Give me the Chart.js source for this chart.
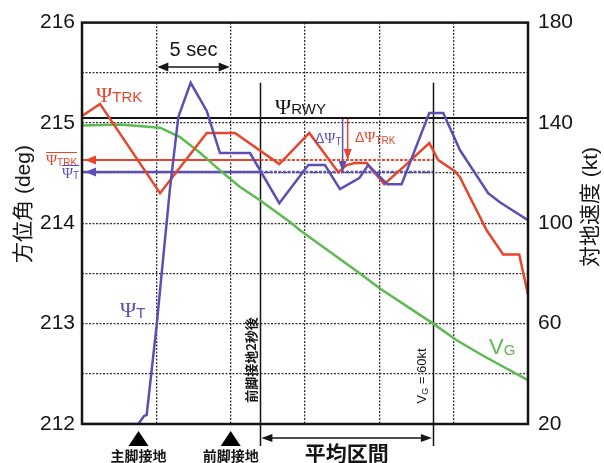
<!DOCTYPE html>
<html>
<head>
<meta charset="utf-8">
<script src="https://cdn.jsdelivr.net/npm/chart.js@4.4.1/dist/chart.umd.min.js"></script>
<style>
html, body { margin: 0; padding: 0; background: #fff; }
</style>
</head>
<body>
<canvas id="c" width="604" height="463"></canvas>
<script>
// time (s) / heading (deg)
var trkTime = [0, 1.21, 5.25, 8.39, 10.29, 13.27, 15.29, 17.24, 17.80, 18.36, 19.15, 20.33, 21.61, 23.36, 23.96, 25.08, 25.42, 27.22, 28.33, 29.41, 30];
var trkDeg  = [215.07, 215.19, 214.30, 214.90, 214.90, 214.59, 214.90, 214.51, 214.58, 214.60, 214.60, 214.39, 214.56, 214.80, 214.63, 214.52, 214.46, 213.93, 213.69, 213.69, 213.29];

var tTime = [0, 3.79, 4.17, 4.35, 5.02, 5.36, 5.92, 6.48, 7.31, 8.39, 9.28, 11.30, 13.27, 15.22, 16.34, 17.35, 18.65, 19.25, 20.53, 21.50, 23.36, 24.30, 25.42, 27.32, 28.11, 30];
var tDeg  = [212.0, 212.0, 212.08, 212.09, 212.98, 213.50, 214.35, 215.06, 215.40, 215.12, 214.70, 214.70, 214.20, 214.58, 214.58, 214.34, 214.45, 214.58, 214.39, 214.39, 215.10, 215.10, 214.73, 214.30, 214.21, 214.03];

var vgTime = [0, 2.56, 5.25, 6.59, 7.94, 9.28, 10.63, 11.97, 13.99, 14.66, 18.70, 20.04, 23.62, 25.20, 27.10, 30];
var vgKt   = [139.0, 139.4, 138.1, 134.4, 128.1, 121.1, 114.5, 109.2, 100.5, 97.2, 80.0, 74.0, 60.0, 53.4, 46.8, 37.5];

var rwyDeg = 215.05;
var meanTrk = 214.63, meanT = 214.51;
var avgStart = 12, avgEnd = 23.6;     // 平均区間
var mainGear = 3.8, noseGear = 10;    // 接地
var dTx = 17.53, dTrkx = 17.87;       // ΔΨ arrows

var RED = '#e8452c', BLUE = '#5b4fb4', GREEN = '#5cba50', INK = '#151515';
var JP = '"Noto Sans CJK JP"';

function pts(xs, ys) {
    var out = [];
    for (var i = 0; i < xs.length; i++) out.push({x: xs[i], y: ys[i]});
    return out;
}

function head(ctx, x, y, ang, len, half, color) {
    ctx.save();
    ctx.translate(x, y);
    ctx.rotate(ang);
    ctx.fillStyle = color;
    ctx.beginPath();
    ctx.moveTo(0, 0);
    ctx.lineTo(-len, -half);
    ctx.lineTo(-len, half);
    ctx.closePath();
    ctx.fill();
    ctx.restore();
}

// main glyph + subscript, returns total width
function sub(ctx, x, y, main, s, color, mf, sf, dy) {
    ctx.fillStyle = color;
    ctx.textAlign = 'left';
    ctx.textBaseline = 'alphabetic';
    ctx.font = mf;
    ctx.fillText(main, x, y);
    var w = ctx.measureText(main).width;
    ctx.font = sf;
    ctx.fillText(s, x + w, y + dy);
    return w + ctx.measureText(s).width;
}

var overlay = {
    id: 'overlay',
    beforeDatasetsDraw: function (chart) {
        var ctx = chart.ctx, xs = chart.scales.x, ys = chart.scales.y, a = chart.chartArea;
        ctx.save();
        ctx.strokeStyle = INK;
        ctx.lineWidth = 1.5;
        [avgStart, avgEnd].forEach(function (t) {
            var px = Math.round(xs.getPixelForValue(t)) + 0.5;
            ctx.beginPath();
            ctx.moveTo(px, ys.getPixelForValue(215.4));
            ctx.lineTo(px, a.bottom + 22);
            ctx.stroke();
        });
        ctx.restore();
    },
    afterDatasetsDraw: function (chart) {
        var ctx = chart.ctx, xs = chart.scales.x, ys = chart.scales.y, a = chart.chartArea;
        ctx.save();

        // frame
        ctx.strokeStyle = INK;
        ctx.lineWidth = 2.5;
        ctx.strokeRect(a.left, a.top, a.right - a.left, a.bottom - a.top);

        // arrow heads on mean lines and ΔΨ lines
        var mTrk = chart.getDatasetMeta(3).data[0], mT = chart.getDatasetMeta(4).data[0];
        head(ctx, a.left + 3, mTrk.y, Math.PI, 11, 4.5, RED);
        head(ctx, a.left + 3, mT.y, Math.PI, 11, 4.5, BLUE);
        var dT = chart.getDatasetMeta(6).data[1], dTrk = chart.getDatasetMeta(7).data[1];
        head(ctx, dT.x, dT.y, Math.PI / 2, 11, 4, BLUE);
        head(ctx, dTrk.x, dTrk.y, Math.PI / 2, 11, 4, RED);

        // 5 sec
        var x5 = xs.getPixelForValue(5), x10 = xs.getPixelForValue(10), y5 = 67;
        ctx.strokeStyle = INK;
        ctx.lineWidth = 1.5;
        ctx.beginPath(); ctx.moveTo(x5 + 4, y5); ctx.lineTo(x10 - 4, y5); ctx.stroke();
        head(ctx, x5 + 1, y5, Math.PI, 11, 4.5, INK);
        head(ctx, x10 - 1, y5, 0, 11, 4.5, INK);
        ctx.fillStyle = INK;
        ctx.font = '20px "Liberation Sans"';
        ctx.textAlign = 'center';
        ctx.fillText('5 sec', (x5 + x10) / 2, 56);

        // 平均区間
        var xa = xs.getPixelForValue(avgStart), xb = xs.getPixelForValue(avgEnd), ya = a.bottom + 14;
        ctx.beginPath(); ctx.moveTo(xa + 4, ya); ctx.lineTo(xb - 4, ya); ctx.stroke();
        head(ctx, xa + 1, ya, Math.PI, 11, 4, INK);
        head(ctx, xb - 1, ya, 0, 11, 4, INK);
        ctx.font = 'bold 21px ' + JP;
        ctx.textAlign = 'center';
        ctx.fillText('平均区間', (xa + xb) / 2, 461);

        // gear touchdown marks
        [[mainGear, '主脚接地'], [noseGear, '前脚接地']].forEach(function (g) {
            var px = xs.getPixelForValue(g[0]);
            ctx.fillStyle = '#000';
            ctx.beginPath();
            ctx.moveTo(px, a.bottom + 7);
            ctx.lineTo(px - 10, a.bottom + 22);
            ctx.lineTo(px + 10, a.bottom + 22);
            ctx.closePath();
            ctx.fill();
            ctx.fillStyle = INK;
            ctx.font = 'bold 14px ' + JP;
            ctx.textAlign = 'center';
            ctx.fillText(g[1], px, 461);
        });

        // series labels
        var PS = '"Liberation Serif"', SA = '"Liberation Sans"';
        sub(ctx, 96, 102, 'Ψ', 'TRK', RED, '22px ' + PS, '15px ' + SA, 0);
        sub(ctx, 275, 114, 'Ψ', 'RWY', INK, '22px ' + PS, '15px ' + SA, 0);
        sub(ctx, 120, 317, 'Ψ', 'T', BLUE, '22px ' + PS, '15px ' + SA, 1);
        sub(ctx, 489, 354, 'V', 'G', GREEN, '22px ' + SA, '15px ' + SA, 1);

        // ΔΨ labels
        ctx.font = '14px ' + SA; ctx.fillStyle = BLUE; ctx.textAlign = 'left';
        ctx.fillText('Δ', 315, 143);
        sub(ctx, 315 + ctx.measureText('Δ').width, 143, 'Ψ', 'T', BLUE, '15px ' + PS, '10px ' + SA, 2);
        ctx.font = '14px ' + SA; ctx.fillStyle = RED;
        ctx.fillText('Δ', 355, 142);
        sub(ctx, 355 + ctx.measureText('Δ').width, 142, 'Ψ', 'TRK', RED, '15px ' + PS, '10px ' + SA, 2);

        // mean labels with overbar
        var w1 = sub(ctx, 46, 165, 'Ψ', 'TRK', RED, '15px ' + PS, '10px ' + SA, 1);
        ctx.strokeStyle = RED; ctx.lineWidth = 1;
        ctx.beginPath(); ctx.moveTo(46, 152.5); ctx.lineTo(46 + w1, 152.5); ctx.stroke();
        var w2 = sub(ctx, 62, 178, 'Ψ', 'T', BLUE, '15px ' + PS, '10px ' + SA, 1);
        ctx.strokeStyle = BLUE;
        ctx.beginPath(); ctx.moveTo(62, 165.5); ctx.lineTo(62 + w2, 165.5); ctx.stroke();

        // rotated notes
        ctx.save();
        ctx.translate(251, 360);
        ctx.rotate(-Math.PI / 2);
        ctx.fillStyle = INK;
        ctx.font = 'bold 13px ' + JP;
        ctx.textAlign = 'center';
        ctx.textBaseline = 'middle';
        ctx.fillText('前脚接地2秒後', 0, 0);
        ctx.restore();

        ctx.save();
        ctx.translate(421, 376);
        ctx.rotate(-Math.PI / 2);
        ctx.font = '13px ' + SA;
        var wv = ctx.measureText('V').width, wr = ctx.measureText(' = 60kt').width;
        ctx.font = '9px ' + SA;
        var wg = ctx.measureText('G').width;
        var x0 = -(wv + wg + wr) / 2;
        sub(ctx, x0, 5, 'V', 'G', INK, '13px ' + SA, '9px ' + SA, 2);
        ctx.font = '13px ' + SA;
        ctx.fillText(' = 60kt', x0 + wv + wg, 5);
        ctx.restore();

        // axis titles
        ctx.fillStyle = INK;
        ctx.font = '21px ' + SA + ', ' + JP;
        ctx.textAlign = 'center';
        ctx.textBaseline = 'middle';
        ctx.save(); ctx.translate(24, 204); ctx.rotate(-Math.PI / 2); ctx.fillText('方位角 (deg)', 0, 0); ctx.restore();
        ctx.save(); ctx.translate(591, 207); ctx.rotate(-Math.PI / 2); ctx.fillText('対地速度 (kt)', 0, 0); ctx.restore();

        ctx.restore();
    }
};

var gridOpts = { color: 'rgba(0,0,0,0.8)', lineWidth: 1.3, drawTicks: false };
var borderOpts = { display: false, dash: [2, 1.5] };

new Chart(document.getElementById('c'), {
    type: 'line',
    data: {
        datasets: [
            { label: 'ΨT', data: pts(tTime, tDeg), borderColor: BLUE, borderWidth: 2.5, yAxisID: 'y' },
            { label: 'ΨTRK', data: pts(trkTime, trkDeg), borderColor: RED, borderWidth: 2.5, yAxisID: 'y' },
            { label: 'VG', data: pts(vgTime, vgKt), borderColor: GREEN, borderWidth: 2.5, yAxisID: 'y2' },
            { label: 'mean TRK', data: pts([0, avgStart, avgEnd], [meanTrk, meanTrk, meanTrk]), borderColor: RED, borderWidth: 2, yAxisID: 'y',
              segment: { borderDash: function (c) { return c.p0.parsed.x >= avgStart ? [3, 1.5] : []; } } },
            { label: 'mean T', data: pts([0, avgStart, avgEnd], [meanT, meanT, meanT]), borderColor: BLUE, borderWidth: 2.5, yAxisID: 'y',
              segment: { borderDash: function (c) { return c.p0.parsed.x >= avgStart ? [3, 1.5] : []; } } },
            { label: 'RWY', data: pts([0, 30], [rwyDeg, rwyDeg]), borderColor: INK, borderWidth: 2, yAxisID: 'y' },
            { label: 'dT', data: pts([dTx, dTx], [rwyDeg, meanT]), borderColor: BLUE, borderWidth: 1.5, yAxisID: 'y' },
            { label: 'dTRK', data: pts([dTrkx, dTrkx], [rwyDeg, meanTrk]), borderColor: RED, borderWidth: 1.5, yAxisID: 'y' }
        ]
    },
    options: {
        responsive: false,
        animation: false,
        devicePixelRatio: 1,
        elements: { point: { radius: 0 }, line: { tension: 0, borderJoinStyle: 'miter' } },
        layout: { padding: { top: 22, bottom: 39, left: 0, right: 0 } },
        plugins: { legend: { display: false }, tooltip: { enabled: false } },
        scales: {
            x: {
                type: 'linear', min: 0, max: 30,
                ticks: { stepSize: 5, display: false },
                grid: gridOpts, border: borderOpts,
                afterFit: function (s) { s.height = 0; }
            },
            y: {
                position: 'left', min: 212, max: 216,
                ticks: {
                    stepSize: 0.5, padding: 7, color: INK,
                    font: { family: 'Liberation Sans', size: 21 },
                    callback: function (v) { return v % 1 === 0 ? v : ''; }
                },
                grid: gridOpts, border: borderOpts,
                afterFit: function (s) { s.width = 82; }
            },
            y2: {
                position: 'right', min: 20, max: 180,
                ticks: {
                    stepSize: 20, padding: 10, color: INK,
                    font: { family: 'Liberation Sans', size: 21 },
                    callback: function (v) { return (v - 20) % 40 === 0 ? v : ''; }
                },
                grid: { display: false, drawTicks: false }, border: { display: false },
                afterFit: function (s) { s.width = 76; }
            }
        }
    },
    plugins: [overlay]
});
</script>
</body>
</html>
